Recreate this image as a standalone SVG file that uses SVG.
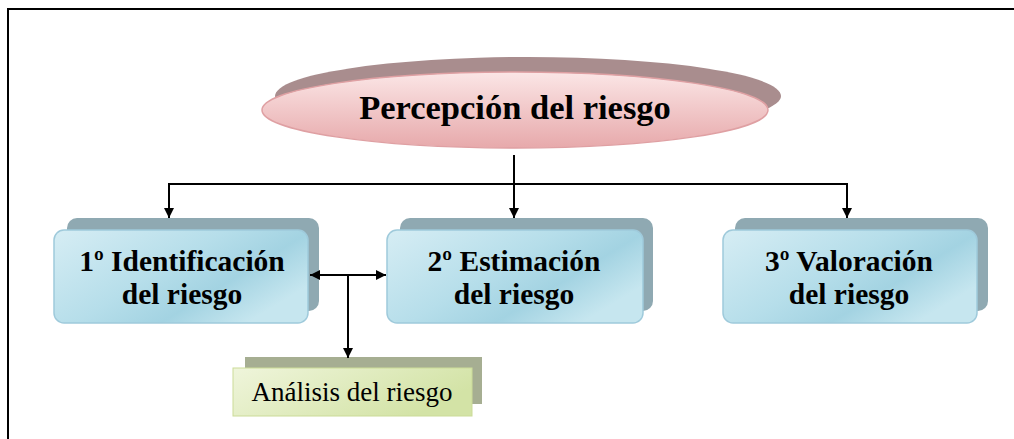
<svg xmlns="http://www.w3.org/2000/svg" width="1014" height="439" viewBox="0 0 1014 439">
<defs>
<linearGradient id="gPink" x1="0" y1="0" x2="0" y2="1">
<stop offset="0" stop-color="#fbe6e6"/>
<stop offset="1" stop-color="#e7a9ab"/>
</linearGradient>
<linearGradient id="gBlue" x1="0" y1="0" x2="1" y2="0.6">
<stop offset="0" stop-color="#d6edf4"/>
<stop offset="0.5" stop-color="#b6deea"/>
<stop offset="0.75" stop-color="#a3d3e2"/>
<stop offset="1" stop-color="#c6e6ef"/>
</linearGradient>
<linearGradient id="gGreen" x1="0" y1="0" x2="1" y2="0.4">
<stop offset="0" stop-color="#eff5db"/>
<stop offset="1" stop-color="#d3e3a6"/>
</linearGradient>
<marker id="arr" viewBox="0 0 10 10" refX="10" refY="5" markerWidth="5" markerHeight="5.5" orient="auto-start-reverse" markerUnits="strokeWidth">
<path d="M0,0 L10,5 L0,10 z" fill="#000"/>
</marker>
<style>
.t{font-family:"Liberation Serif","Times New Roman",serif;fill:#000;text-anchor:middle}
.b{font-weight:bold;font-size:29.5px}
.bshadow{fill:#8fa9b2}
.bmain{fill:url(#gBlue);stroke:#9fcadb;stroke-width:1.5}
.c{fill:none;stroke:#000;stroke-width:2}
</style>
</defs>
<rect width="1014" height="439" fill="#fff"/>
<path d="M8,439 V9 H1014" fill="none" stroke="#000" stroke-width="2"/>

<g id="node-percepcion">
<ellipse cx="528" cy="96" rx="253" ry="39" fill="#a98d8e"/>
<ellipse cx="515" cy="110" rx="253" ry="38" fill="url(#gPink)" stroke="#dfa0a3" stroke-width="1.5"/>
<text class="t" x="515" y="119" font-size="34.5" font-weight="bold">Percepción del riesgo</text>
</g>

<g id="node-identificacion">
<rect class="bshadow" x="67" y="218" width="252" height="93" rx="10"/>
<rect class="bmain" x="54" y="230" width="254" height="93" rx="10"/>
<text class="t b" x="182" y="271">1º Identificación</text>
<text class="t b" x="182" y="304">del riesgo</text>
</g>

<g id="node-estimacion">
<rect class="bshadow" x="400" y="218" width="253" height="93" rx="10"/>
<rect class="bmain" x="387" y="230" width="256" height="93" rx="10"/>
<text class="t b" x="514" y="271">2º Estimación</text>
<text class="t b" x="514" y="304">del riesgo</text>
</g>

<g id="node-valoracion">
<rect class="bshadow" x="735" y="218" width="253" height="93" rx="10"/>
<rect class="bmain" x="723" y="230" width="254" height="93" rx="10"/>
<text class="t b" x="849" y="271">3º Valoración</text>
<text class="t b" x="849" y="304">del riesgo</text>
</g>

<g id="node-analisis">
<rect x="245" y="357" width="237" height="47" fill="#a6ae92"/>
<rect x="233" y="368" width="239" height="48" fill="url(#gGreen)" stroke="#cbdb98" stroke-width="1"/>
<text class="t" x="352" y="401" font-size="27">Análisis del riesgo</text>
</g>

<g id="connectors">
<path class="c" d="M514,155 V218" marker-end="url(#arr)"/>
<path class="c" d="M169,184 H847"/>
<path class="c" d="M169,183 V218" marker-end="url(#arr)"/>
<path class="c" d="M847,183 V218" marker-end="url(#arr)"/>
<path class="c" d="M310,275 H386" marker-start="url(#arr)" marker-end="url(#arr)"/>
<path class="c" d="M348,275 V358" marker-end="url(#arr)"/>
</g>
</svg>
